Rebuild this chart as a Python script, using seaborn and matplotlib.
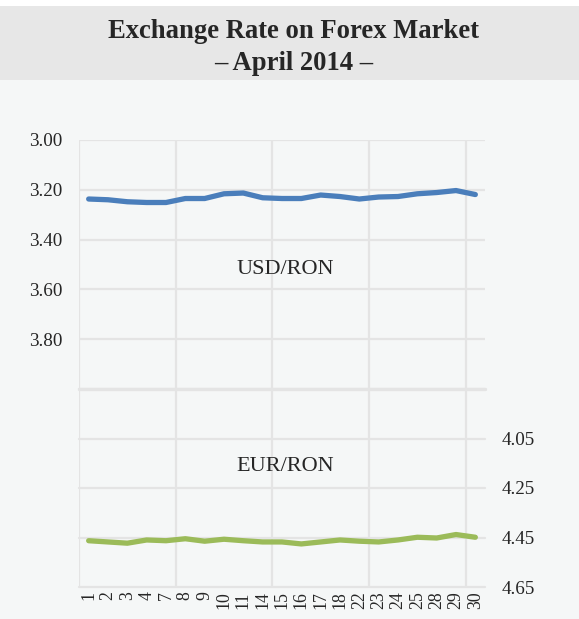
import matplotlib
matplotlib.use("Agg")
import matplotlib.pyplot as plt
from matplotlib.patches import Rectangle
import numpy as np
import pandas as pd
import seaborn as sns

# Trading days of April 2014 and daily exchange rates (RON per unit)
days = ["1", "2", "3", "4", "7", "8", "9", "10", "11", "14", "15",
        "16", "17", "18", "22", "23", "24", "25", "28", "29", "30"]
usd_ron = [3.237, 3.240, 3.248, 3.251, 3.251, 3.235, 3.235, 3.216, 3.213, 3.232, 3.235,
           3.235, 3.221, 3.227, 3.237, 3.229, 3.227, 3.216, 3.211, 3.203, 3.219]
eur_ron = [4.463, 4.468, 4.473, 4.460, 4.463, 4.455, 4.465, 4.457, 4.463, 4.468, 4.468,
           4.476, 4.468, 4.460, 4.465, 4.468, 4.460, 4.449, 4.452, 4.438, 4.449]

usd_ticks = [3.00, 3.20, 3.40, 3.60, 3.80]
eur_ticks = [4.05, 4.25, 4.45, 4.65]

df = pd.DataFrame({"pos": np.arange(len(days)), "day": days,
                   "USD/RON": usd_ron, "EUR/RON": eur_ron})

sns.set_style("white")
plt.rcParams["font.family"] = ["Liberation Serif", "DejaVu Serif"]

BG = "#f5f7f7"
BAND = "#e7e7e7"
GRID = "#e4e4e4"
TXT = "#262626"
BLUE = "#4a7ebb"
GREEN = "#9bbb59"

W, H = 579, 619
fig = plt.figure(figsize=(W / 100, H / 100), dpi=100, facecolor=BG)

# title band
fig.patches.append(Rectangle((0, 1 - 6 / H), 1, 6 / H, transform=fig.transFigure,
                             facecolor="white", edgecolor="none", zorder=0))
fig.patches.append(Rectangle((0, 1 - 80 / H), 1, 74 / H, transform=fig.transFigure,
                             facecolor=BAND, edgecolor="none", zorder=0))
fig.text(294 / W, 1 - 31 / H, "Exchange Rate on Forex Market", ha="center", va="center",
         fontsize=19.2, fontweight="bold", color=TXT)
fig.text(294 / W, 1 - 63 / H, "– April 2014 –", ha="center", va="center",
         fontsize=19.2, fontweight="bold", color=TXT)

x0, x1 = 79, 485
ax_top = fig.add_axes([x0 / W, 1 - 389 / H, (x1 - x0) / W, (389 - 140) / H])
ax_bot = fig.add_axes([x0 / W, 1 - 587 / H, (x1 - x0) / W, (587 - 389) / H])

n = len(days)
for ax in (ax_top, ax_bot):
    ax.set_facecolor(BG)
    ax.set_xlim(-0.5, n - 0.5)
    for s in ax.spines.values():
        s.set_visible(False)
    # vertical grid every five trading days
    for xv in np.arange(-0.5, n - 0.5, 5):
        ax.axvline(xv, color=GRID, lw=1.6, zorder=1)
    ax.tick_params(length=0)

sns.lineplot(data=df, x="pos", y="USD/RON", ax=ax_top, color=BLUE, lw=3.8,
             solid_capstyle="round", zorder=3)
sns.lineplot(data=df, x="pos", y="EUR/RON", ax=ax_bot, color=GREEN, lw=3.8,
             solid_capstyle="round", zorder=3)

# upper panel: USD/RON on the left, inverted
ax_top.set_ylim(4.00, 3.00)
for yv in usd_ticks:
    ax_top.axhline(yv, color=GRID, lw=1.6, zorder=1)
ax_top.axhline(4.00, color=GRID, lw=2.0, zorder=1, clip_on=False)
ax_top.set_yticks(usd_ticks)
ax_top.set_yticklabels([f"{v:.2f}" for v in usd_ticks], fontsize=13.8, color=TXT)
ax_top.tick_params(axis="y", pad=12)
ax_top.set_xticks([])
ax_top.set_xlabel("")
ax_top.set_ylabel("")
ax_top.text(10.15, 3.52, "USD/RON", ha="center", va="center", fontsize=16, color=TXT)

# lower panel: EUR/RON on the right, inverted
ax_bot.set_ylim(4.65, 3.85)
for yv in [3.85] + eur_ticks:
    ax_bot.axhline(yv, color=GRID, lw=1.6, zorder=1, clip_on=False)
ax_bot.axhline(3.85, color=GRID, lw=2.4, zorder=1, clip_on=False)
ax_bot.yaxis.tick_right()
ax_bot.set_yticks(eur_ticks)
ax_bot.set_yticklabels([f"{v:.2f}" for v in eur_ticks], fontsize=13.8, color=TXT)
ax_bot.tick_params(axis="y", pad=12)
ax_bot.set_xticks(df["pos"])
ax_bot.set_xticklabels(days, rotation=90, fontsize=12.8, color=TXT)
ax_bot.tick_params(axis="x", pad=3)
ax_bot.set_xlabel("")
ax_bot.set_ylabel("")
ax_bot.text(10.15, 4.165, "EUR/RON", ha="center", va="center", fontsize=16, color=TXT)

fig.savefig("out.png", dpi=100, facecolor=BG)
